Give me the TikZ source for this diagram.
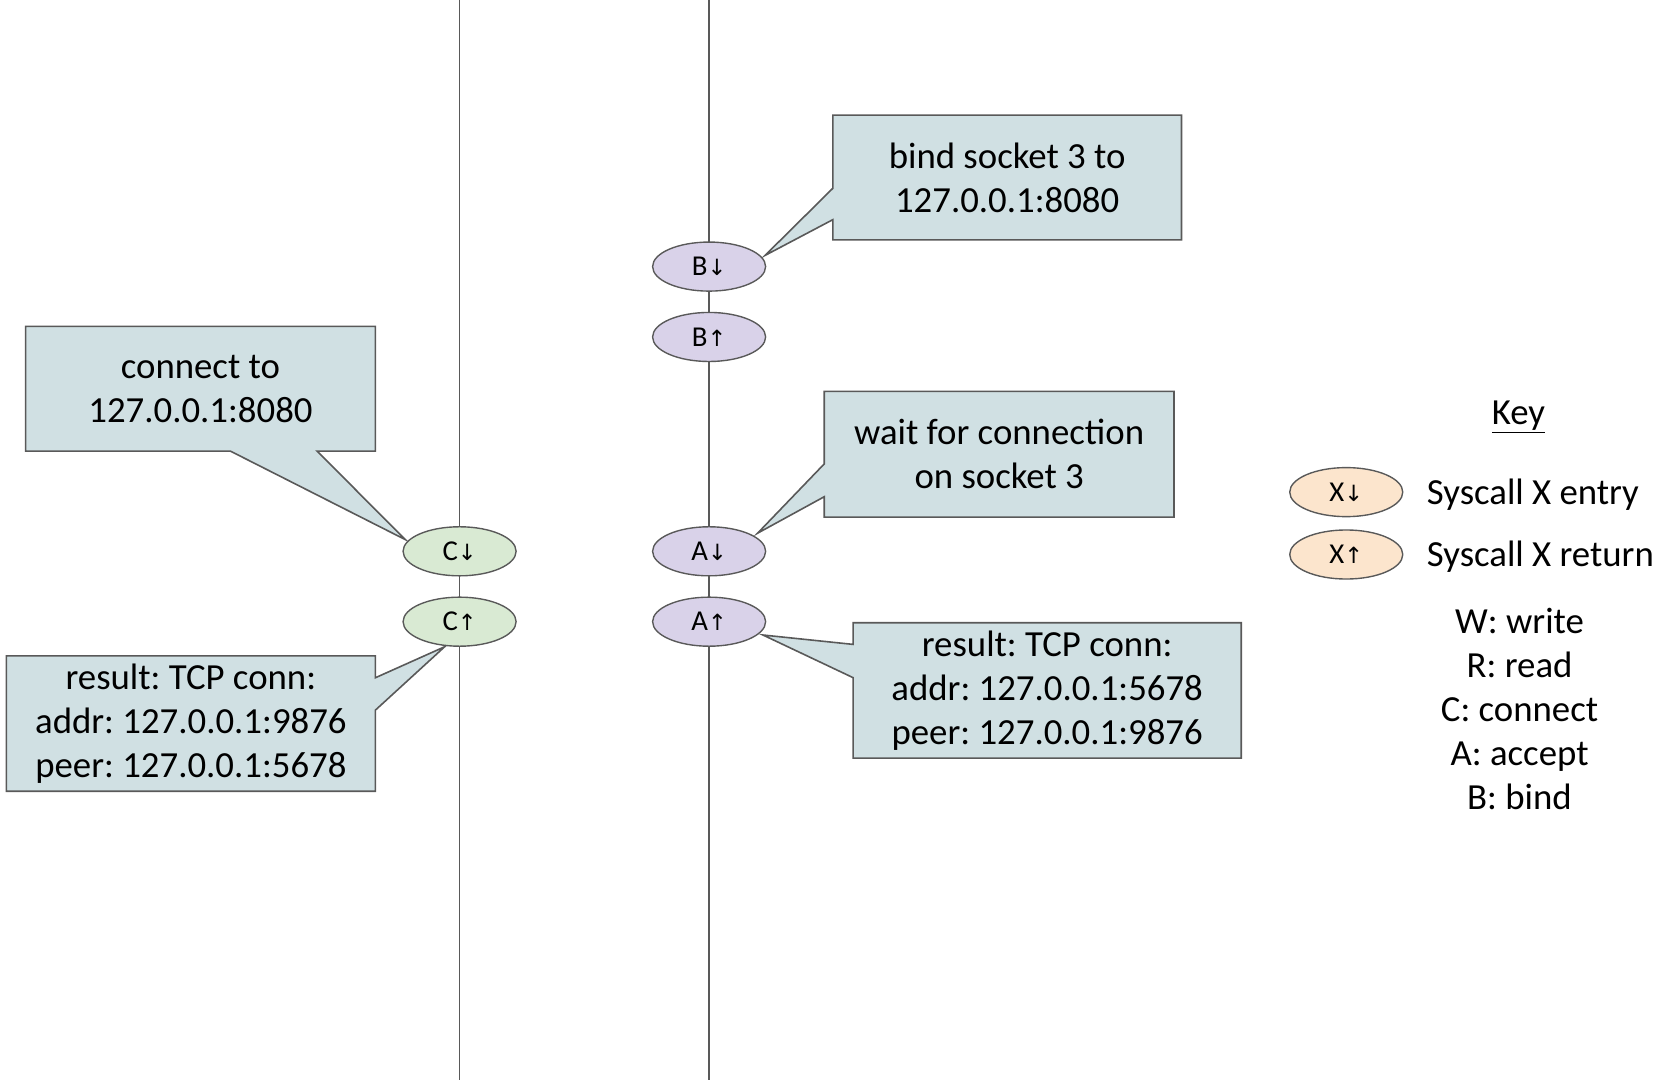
\documentclass[tikz,border=0pt]{standalone}
\usepackage{fontspec}
\setmainfont{Carlito}
\newfontfamily\arrowfont{DejaVu Sans}
\usetikzlibrary{shapes.geometric,backgrounds}
\frenchspacing

\definecolor{notefill}{HTML}{D0E0E3}
\definecolor{edgegray}{HTML}{595959}
\definecolor{connfill}{HTML}{D9EAD3}
\definecolor{srvfill}{HTML}{D9D2E9}
\definecolor{keyfill}{HTML}{FCE5CD}

% entry / return arrows used inside the syscall ovals
\newcommand{\callin}{{\arrowfont\fontsize{21}{21}\selectfont ↓}}
\newcommand{\callout}{{\arrowfont\fontsize{21}{21}\selectfont ↑}}

\tikzset{
  syscall/.style={ellipse, draw=edgegray, line width=1.3pt, minimum width=106pt,
    minimum height=46pt, inner sep=0pt, outer sep=0pt,
    font=\fontsize{27}{27}\selectfont},
  note/.style={rectangle, inner sep=0pt, outer sep=0pt, align=center,
    font=\fontsize{34.5}{41.2}\selectfont},
  bubble/.style={draw=edgegray, fill=notefill, line width=1.5pt, line join=miter},
  lifeline/.style={draw=edgegray, line width=1.4pt},
  keytext/.style={inner sep=0pt, font=\fontsize{34.5}{41.2}\selectfont},
}

\begin{document}
\begin{tikzpicture}[x=1pt, y=-1pt]
\useasboundingbox (0,0) rectangle (1568,1013);

% ---- syscall ovals on the two timelines
\node[syscall, fill=connfill] (cd) at (431,517) {C\callin};
\node[syscall, fill=connfill] (cu) at (431,583) {C\callout};
\node[syscall, fill=srvfill] (bd) at (665,250) {B\callin};
\node[syscall, fill=srvfill] (bu) at (665,316) {B\callout};
\node[syscall, fill=srvfill] (ad) at (665,517) {A\callin};
\node[syscall, fill=srvfill] (au) at (665,583) {A\callout};

% ---- timelines
\coordinate (Ltop) at (431,0);  \coordinate (Lbot) at (431,1013);
\coordinate (Rtop) at (665,0);  \coordinate (Rbot) at (665,1013);
\draw[lifeline] (Ltop) -- (cd);
\draw[lifeline] (cd) -- (cu);
\draw[lifeline] (cu) -- (Lbot);
\draw[lifeline] (Rtop) -- (bd);
\draw[lifeline] (bd) -- (bu);
\draw[lifeline] (bu) -- (ad);
\draw[lifeline] (ad) -- (au);
\draw[lifeline] (au) -- (Rbot);

% ---- notes
\node[note, minimum width=328pt, minimum height=117pt] (nconn) at (188,364.5)
  {connect to\\127.0.0.1:8080};
\node[note, minimum width=346pt, minimum height=127pt] (ncres) at (179,678.5)
  {result: TCP conn:\\addr: 127.0.0.1:9876\\peer: 127.0.0.1:5678};
\node[note, minimum width=327pt, minimum height=117pt] (nbind) at (944.5,166.5)
  {bind socket 3 to\\127.0.0.1:8080};
\node[note, minimum width=328pt, minimum height=118pt] (nwait) at (937,426)
  {wait for connection\\on socket 3};
\node[note, minimum width=364pt, minimum height=127pt] (nares) at (982,647.5)
  {result: TCP conn:\\addr: 127.0.0.1:5678\\peer: 127.0.0.1:9876};

% ---- pointer tips of the speech bubbles
\coordinate (tipconn) at (380,506);
\coordinate (tipcres) at (417,606.5);
\coordinate (tipbind) at (717.5,239.5);
\coordinate (tipwait) at (710.5,500);
\coordinate (tipares) at (715.5,595.5);

\begin{scope}[on background layer]
  \path[bubble] (nconn.north west) -- (nconn.north east) -- (nconn.south east)
    -- (297.4,423) -- (tipconn) -- (216,423) -- (nconn.south west) -- cycle;
  \path[bubble] (ncres.north west) -- (ncres.north east) -- (352,635.6)
    -- (tipcres) -- (352,666) -- (ncres.south east) -- (ncres.south west) -- cycle;
  \path[bubble] (nbind.north west) -- (nbind.north east) -- (nbind.south east)
    -- (nbind.south west) -- (781,206) -- (tipbind) -- (781,176.6) -- cycle;
  \path[bubble] (nwait.north west) -- (nwait.north east) -- (nwait.south east)
    -- (nwait.south west) -- (773,465.8) -- (tipwait) -- (773,435) -- cycle;
  \path[bubble] (nares.north west) -- (nares.north east) -- (nares.south east)
    -- (nares.south west) -- (800,635.5) -- (tipares) -- (800,604.3) -- cycle;
\end{scope}

% ---- key
\node[keytext] (keyhead) at (1424,391) {\underline{Key}};
\node[syscall, fill=keyfill] (kin) at (1262.5,461.5) {X\callin};
\node[syscall, fill=keyfill] (kout) at (1262.5,520) {X\callout};
\node[keytext, anchor=base west] (kintext) at (1338,473) {Syscall X entry};
\node[keytext, anchor=base west] (kouttext) at (1338,531) {Syscall X return};
\node[keytext, align=center] (letters) at (1425,665)
  {W: write\\R: read\\C: connect\\A: accept\\B: bind};
\end{tikzpicture}
\end{document}
